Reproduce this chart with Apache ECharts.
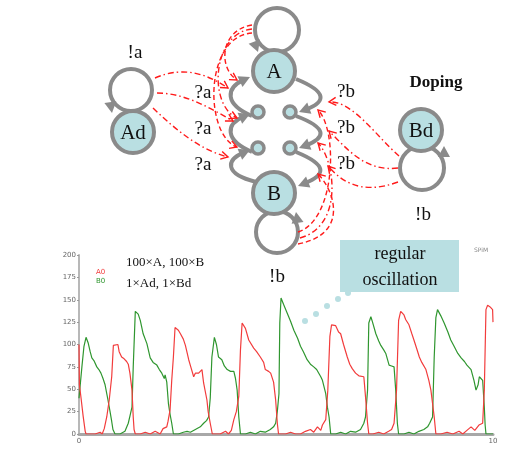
<!DOCTYPE html>
<html>
<head>
<meta charset="utf-8">
<script src="https://cdn.jsdelivr.net/npm/echarts@6/dist/echarts.min.js"></script>
<style>
  html, body { margin: 0; padding: 0; background: #ffffff; }
  #chart { width: 526px; height: 461px; }
</style>
</head>
<body>
<div id="chart"></div>
<script>
// Simulation time (x) and population counts of A0 and B0
const timeA = [0.00,0.01,0.05,0.10,0.15,0.17,0.39,0.51,0.56,0.61,0.67,0.73,0.79,0.83,0.87,0.94,0.97,1.03,1.09,1.15,1.19,1.23,1.28,1.31,1.33,1.36,1.48,1.60,1.72,1.84,1.88,1.96,2.03,2.12,2.15,2.20,2.24,2.28,2.32,2.40,2.45,2.52,2.57,2.65,2.70,2.77,2.81,2.89,2.93,2.97,3.01,3.09,3.12,3.17,3.22,
  3.29,3.41,3.54,3.61,3.68,3.74,3.80,3.86,3.90,3.94,3.97,4.02,4.10,4.14,4.22,4.29,4.38,4.46,4.50,4.58,4.63,4.70,4.75,4.79,4.82,
  4.99,5.11,5.23,5.35,5.47,5.59,5.67,5.76,5.84,5.88,5.96,6.01,6.06,6.10,6.14,6.20,6.27,6.32,6.39,6.48,6.54,6.60,6.68,6.76,6.80,6.88,6.92,6.97,7.00,
  7.10,7.24,7.36,7.48,7.55,7.61,7.67,7.72,7.77,7.85,7.89,7.97,8.04,8.09,8.16,8.22,8.28,8.38,8.45,8.50,8.58,8.62,
  8.74,8.89,9.03,9.18,9.27,9.37,9.47,9.56,9.66,9.75,9.79,9.83,9.87,9.93,9.99,10.00];
const countA = [100,55,40,20,3,0,0,2,0,6,19,38,64,99,100,100,92,86,84,81,78,68,49,19,5,0,0,2,0,3,5,0,6,8,14,27,60,86,119,116,112,106,99,83,75,64,68,68,66,72,57,38,25,12,0,
  0,0,3,0,4,16,25,42,94,124,124,118,105,103,96,92,86,80,72,70,68,58,38,12,0,
  0,2,0,0,3,5,2,8,4,10,16,49,109,122,124,121,114,112,100,86,78,73,68,65,64,64,42,12,0,
  0,2,0,3,5,12,49,127,137,133,128,122,112,105,95,86,80,72,60,49,19,0,
  0,2,0,3,0,4,8,4,10,12,49,139,144,142,139,125];

const timeB = [0.00,0.02,0.07,0.12,0.17,0.22,0.27,0.31,0.36,0.43,0.48,0.53,0.58,0.63,0.70,0.75,0.79,0.82,0.87,0.99,1.11,1.19,1.23,1.28,1.31,1.36,1.40,1.43,1.48,1.55,1.64,1.72,1.79,1.88,1.94,2.00,2.06,2.08,2.12,2.16,2.20,2.24,2.28,
  2.40,2.52,2.61,2.69,2.81,2.93,3.01,3.08,3.13,3.17,3.21,3.27,3.32,3.37,3.41,3.45,3.51,3.58,3.66,3.74,3.78,3.82,3.86,3.90,
  4.02,4.14,4.26,4.38,4.50,4.62,4.70,4.75,4.79,4.83,4.85,4.88,4.94,5.03,5.11,5.19,5.28,5.35,5.42,5.51,5.59,5.67,5.74,5.84,5.88,5.96,6.00,6.04,6.08,
  6.20,6.32,6.44,6.56,6.68,6.80,6.88,6.92,6.97,7.00,7.05,7.09,7.17,7.24,7.29,7.36,7.41,7.49,7.55,7.61,7.65,7.69,7.72,
  7.85,7.97,8.09,8.21,8.33,8.42,8.47,8.54,8.58,8.62,8.66,8.74,8.82,8.91,8.98,9.06,9.15,9.23,9.31,9.37,9.47,9.54,9.59,9.64,9.67,9.71,9.75,9.79,9.81,9.83,9.95,10.00];
const countB = [40,42,75,98,108,102,92,85,82,75,72,68,62,55,38,25,14,5,0,0,3,12,20,30,75,137,139,134,127,112,101,85,80,77,72,68,62,66,58,34,22,12,0,
  0,2,3,2,5,8,12,15,19,40,86,108,100,86,88,83,76,72,70,70,62,49,19,0,
  0,2,0,3,2,5,8,12,25,45,124,152,145,135,126,116,107,98,92,83,78,75,72,64,60,45,30,19,0,
  0,2,0,3,2,5,12,19,49,124,131,125,112,104,99,94,90,77,76,75,49,12,0,
  0,2,0,3,5,8,12,19,86,130,139,132,124,114,105,98,90,85,81,77,72,60,49,55,64,62,60,30,10,0,0,0];

// Axis tick labels
const yTicks = [0, 25, 50, 75, 100, 125, 150, 175, 200];
const xTicks = [0, 10];

const seriesNames = ['A0', 'B0'];
const RED = '#f23c3c';
const GREEN = '#2f962f';

const chart = echarts.init(document.getElementById('chart'), null, { renderer: 'canvas' });

// ---------- reaction network diagram ----------
const GRAY = '#8a8a8a';
const NODE_FILL = '#b9dfe2';
const SERIF = 'Liberation Serif, DejaVu Serif, serif';
const g = [];

function triangle(tip, from, len, half) {
  const a = Math.atan2(tip[1] - from[1], tip[0] - from[0]);
  const bx = tip[0] - len * Math.cos(a), by = tip[1] - len * Math.sin(a);
  const nx = -Math.sin(a) * half, ny = Math.cos(a) * half;
  return [tip, [bx + nx, by + ny], [bx - nx, by - ny]];
}
function grayEdge(p0, c1, c2, tip) {
  const a = Math.atan2(tip[1] - c2[1], tip[0] - c2[0]);
  const end = [tip[0] - 7 * Math.cos(a), tip[1] - 7 * Math.sin(a)];
  g.push({ type: 'bezierCurve', z: 10, shape: { x1: p0[0], y1: p0[1], cpx1: c1[0], cpy1: c1[1], cpx2: c2[0], cpy2: c2[1], x2: end[0], y2: end[1] },
    style: { stroke: GRAY, lineWidth: 4, fill: null } });
  g.push({ type: 'polygon', z: 11, shape: { points: triangle(tip, c2, 11, 6) }, style: { fill: GRAY } });
}
function redEdge(p0, c1, c2, tip, dash) {
  g.push({ type: 'bezierCurve', z: 12, shape: { x1: p0[0], y1: p0[1], cpx1: c1[0], cpy1: c1[1], cpx2: c2[0], cpy2: c2[1], x2: tip[0], y2: tip[1] },
    style: { stroke: '#ff1a1a', lineWidth: 1.4, fill: null, lineDash: dash } });
  const t = triangle(tip, c2, 7, 4);
  g.push({ type: 'polyline', z: 12, shape: { points: [t[1], t[0], t[2]] }, style: { stroke: '#ff1a1a', lineWidth: 1.4, fill: null } });
}
function loop(cx, cy, r, tip, from) {
  g.push({ type: 'circle', z: 9, shape: { cx: cx, cy: cy, r: r }, style: { stroke: GRAY, lineWidth: 4, fill: null } });
  g.push({ type: 'polygon', z: 11, shape: { points: triangle(tip, from, 11, 6) }, style: { fill: GRAY } });
}
function node(cx, cy, r, label, lw) {
  g.push({ type: 'circle', z: 13, shape: { cx: cx, cy: cy, r: r }, style: { stroke: GRAY, lineWidth: lw, fill: NODE_FILL } });
  if (label) {
    g.push({ type: 'text', z: 14, style: { text: label, x: cx, y: cy + 1, font: '21px ' + SERIF, fill: '#111', align: 'center', verticalAlign: 'middle' } });
  }
}
function label(text, x, y, size, bold) {
  g.push({ type: 'text', z: 15, style: { text: text, x: x, y: y, font: (bold ? 'bold ' : '') + size + 'px ' + SERIF, fill: '#111', align: 'center', verticalAlign: 'middle' } });
}

// self-loops
loop(277, 30, 22, [258, 52], [253, 38]);
loop(131, 90, 21, [112, 113], [110, 100]);
loop(422, 168, 22, [444, 146], [444, 160]);
loop(277, 232, 21, [296, 212], [298, 226]);

// main cycle A -> s2 -> s4 -> B -> s3 -> s1 -> A
grayEdge([252, 116], [224, 104], [226, 88], [250, 77]);
grayEdge([252, 152], [224, 140], [226, 124], [250, 114]);
grayEdge([256, 182], [224, 174], [226, 160], [250, 150]);
grayEdge([296, 79], [328, 92], [326, 102], [299, 112]);
grayEdge([296, 116], [328, 128], [326, 138], [299, 148]);
grayEdge([296, 152], [328, 165], [326, 175], [298, 186]);

// doping interactions on channels a and b
const DASHDOT = [6, 3, 1.5, 3];
const DASHED = [5, 3];
redEdge([155, 78], [185, 65], [208, 75], [228, 88], DASHDOT);
redEdge([157, 93], [185, 93], [210, 108], [233, 121], DASHDOT);
redEdge([153, 108], [176, 130], [200, 150], [228, 157], DASHDOT);
redEdge([252, 25], [220, 30], [218, 68], [237, 80], DASHED);
redEdge([252, 29], [212, 33], [208, 105], [237, 118], DASHDOT);
redEdge([252, 33], [204, 36], [204, 135], [237, 147], DASHED);

redEdge([399, 156], [378, 138], [352, 100], [329, 102], DASHDOT);
redEdge([398, 168], [366, 172], [348, 150], [329, 131], DASHDOT);
redEdge([398, 182], [360, 196], [340, 180], [328, 166], DASHDOT);
redEdge([298, 232], [336, 220], [338, 130], [318, 110], DASHED);
redEdge([300, 238], [344, 226], [335, 160], [318, 143], DASHDOT);
redEdge([298, 244], [350, 234], [334, 190], [318, 174], DASHED);

// nodes
node(274, 71, 21, 'A', 4);
node(133, 132, 21, 'Ad', 4);
node(274, 193, 21, 'B', 4);
node(421, 130, 21, 'Bd', 4);
node(258, 112, 6, '', 3.5);
node(290, 112, 6, '', 3.5);
node(258, 148, 6, '', 3.5);
node(290, 148, 6, '', 3.5);

// channel labels
label('!a', 135, 53, 19);
label('?a', 203, 93, 19);
label('?a', 203, 129, 19);
label('?a', 203, 165, 19);
label('?b', 346, 92, 19);
label('?b', 346, 128, 19);
label('?b', 346, 164, 19);
label('Doping', 436, 83, 17, true);
label('!b', 423, 215, 19);
label('!b', 277, 277, 19);

// annotation box with dotted leader
g.push({ type: 'rect', z: 15, shape: { x: 340, y: 240, width: 119, height: 52 }, style: { fill: '#b9dfe2' } });
label('regular', 400, 254, 18);
label('oscillation', 400, 280, 18);
[[305, 321], [316, 314], [327, 306], [338, 299], [348, 293]].forEach(function (p) {
  g.push({ type: 'circle', z: 15, shape: { cx: p[0], cy: p[1], r: 3 }, style: { fill: '#b9dfe2' } });
});

// plot annotations
g.push({ type: 'text', z: 15, style: { text: '100\u00d7A, 100\u00d7B', x: 126, y: 263, font: '13px ' + SERIF, fill: '#111', verticalAlign: 'middle' } });
g.push({ type: 'text', z: 15, style: { text: '1\u00d7Ad, 1\u00d7Bd', x: 126, y: 284, font: '13px ' + SERIF, fill: '#111', verticalAlign: 'middle' } });
g.push({ type: 'text', z: 15, style: { text: seriesNames[0], x: 96, y: 272, font: '7px DejaVu Sans, sans-serif', fill: RED, verticalAlign: 'middle' } });
g.push({ type: 'text', z: 15, style: { text: seriesNames[1], x: 96, y: 281, font: '7px DejaVu Sans, sans-serif', fill: GREEN, verticalAlign: 'middle' } });
g.push({ type: 'text', z: 15, style: { text: 'SPiM', x: 474, y: 250, font: '6px DejaVu Sans, sans-serif', fill: '#888', verticalAlign: 'middle' } });

function pairs(xs, ys) { return xs.map(function (x, i) { return [x, ys[i]]; }); }

chart.setOption({
  animation: false,
  backgroundColor: '#ffffff',
  grid: { left: 79, right: 33, top: 255, bottom: 27 },
  xAxis: {
    type: 'value', min: xTicks[0], max: xTicks[xTicks.length - 1], interval: 10,
    axisLine: { lineStyle: { color: '#a8a8a8', width: 3 } },
    axisTick: { show: false },
    splitLine: { show: false },
    axisLabel: { fontSize: 7, color: '#666', margin: 4, fontFamily: 'DejaVu Sans' }
  },
  yAxis: {
    type: 'value', min: yTicks[0], max: yTicks[yTicks.length - 1], interval: 25,
    axisLine: { show: true, lineStyle: { color: '#b8b8b8', width: 2 } },
    axisTick: { show: true, length: 2, lineStyle: { color: '#999' } },
    splitLine: { show: false },
    axisLabel: { fontSize: 7, color: '#666', margin: 3, fontFamily: 'DejaVu Sans' }
  },
  series: [
    { name: seriesNames[0], type: 'line', data: pairs(timeA, countA), showSymbol: false, z: 3,
      lineStyle: { color: RED, width: 1.2 }, itemStyle: { color: RED } },
    { name: seriesNames[1], type: 'line', data: pairs(timeB, countB), showSymbol: false, z: 2,
      lineStyle: { color: GREEN, width: 1.2 }, itemStyle: { color: GREEN } }
  ],
  graphic: { elements: g }
});
</script>
</body>
</html>
